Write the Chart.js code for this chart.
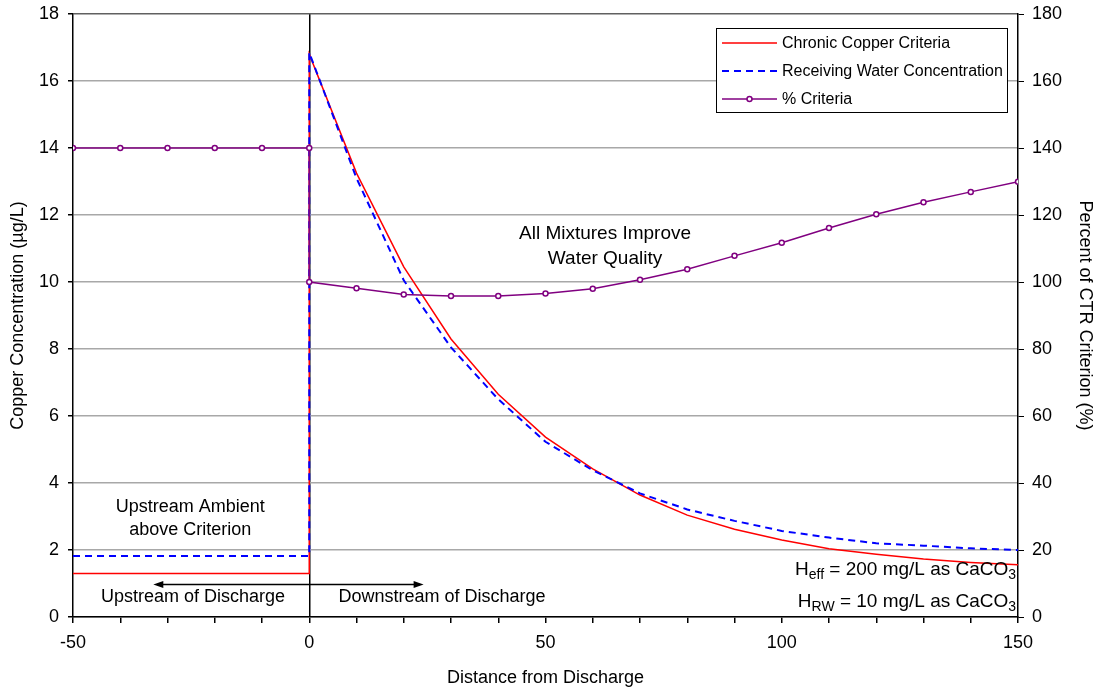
<!DOCTYPE html>
<html>
<head>
<meta charset="utf-8">
<script src="https://cdn.jsdelivr.net/npm/chart.js@4.4.0/dist/chart.umd.min.js"></script>
<style>
html, body { margin: 0; padding: 0; background: #fff; }
#wrap { width: 1098px; height: 692px; }
</style>
</head>
<body>
<div id="wrap"><canvas id="c"></canvas></div>
<script>
// ===== Copper criteria vs distance from discharge =====
const distUp = [-50, -40, -30, -20, -10, 0];
const distDown = [0, 10, 20, 30, 40, 50, 60, 70, 80, 90, 100, 110, 120, 130, 140, 150];

const criteriaUp = [1.3, 1.3, 1.3, 1.3, 1.3, 1.3];
const criteriaDown = [16.8, 13.25, 10.45, 8.3, 6.65, 5.37, 4.42, 3.64, 3.04, 2.62, 2.30, 2.04, 1.87, 1.73, 1.63, 1.56];

const rwUp = [1.82, 1.82, 1.82, 1.82, 1.82, 1.82];
const rwDown = [16.85, 13.1, 10.05, 8.05, 6.5, 5.23, 4.38, 3.69, 3.21, 2.87, 2.57, 2.37, 2.2, 2.13, 2.05, 2.0];

const pctUp = [140, 140, 140, 140, 140, 140];
const pctDown = [100, 98.1, 96.3, 95.8, 95.8, 96.6, 98.0, 100.7, 103.8, 107.8, 111.7, 116.1, 120.2, 123.8, 126.9, 129.9];

const FONT = 'Liberation Sans, Arial, sans-serif';
const pts = (xs, ys) => xs.map((x, i) => ({ x, y: ys[i] }));

// legend box in the upper right corner
const boxLegend = {
    id: 'boxLegend',
    afterDraw(chart) {
        const ctx = chart.ctx;
        const x0 = 716, y0 = 28, w = 291, h = 84;
        ctx.save();
        ctx.fillStyle = '#fff';
        ctx.fillRect(x0, y0, w, h);
        ctx.strokeStyle = '#000';
        ctx.lineWidth = 1;
        ctx.strokeRect(x0 + 0.5, y0 + 0.5, w, h);
        ctx.font = '16px ' + FONT;
        ctx.textBaseline = 'middle';
        const rows = [43, 71, 99];
        chart.data.datasets.forEach((ds, i) => {
            const y = rows[i];
            ctx.strokeStyle = ds.borderColor;
            ctx.lineWidth = ds.borderWidth;
            ctx.setLineDash(ds.borderDash || []);
            ctx.beginPath(); ctx.moveTo(722, y); ctx.lineTo(777, y); ctx.stroke();
            ctx.setLineDash([]);
            if (ds.pointRadius) {
                ctx.beginPath(); ctx.arc(749.5, y, 2.5, 0, Math.PI * 2);
                ctx.fillStyle = '#fff'; ctx.fill();
                ctx.lineWidth = 1.5; ctx.stroke();
            }
            ctx.fillStyle = '#000';
            ctx.fillText(ds.label, 782, y + 1);
        });
        ctx.restore();
    }
};

// text notes and the up/downstream arrow
const notes = {
    id: 'notes',
    afterDatasetsDraw(chart) {
        const ctx = chart.ctx, sx = chart.scales.x, sy = chart.scales.y;
        const X = v => sx.getPixelForValue(v), Y = v => sy.getPixelForValue(v);
        ctx.save();
        ctx.fillStyle = '#000';
        ctx.strokeStyle = '#000';
        ctx.textAlign = 'center';
        ctx.textBaseline = 'middle';
        ctx.font = '19px ' + FONT;
        ctx.fillText('All Mixtures Improve', X(62.6), Y(11.43));
        ctx.fillText('Water Quality', X(62.6), Y(10.7));
        ctx.font = '18px ' + FONT;
        ctx.fillText('Upstream Ambient', X(-25.2), Y(3.28));
        ctx.fillText('above Criterion', X(-25.2), Y(2.6));
        ctx.fillText('Upstream of Discharge', X(-24.6), Y(0.6));
        ctx.fillText('Downstream of Discharge', X(28.1), Y(0.6));

        // double arrow
        const ay = Math.round(Y(0.99)) + 0.5, ax1 = X(-33), ax2 = X(24.2);
        ctx.lineWidth = 1.5;
        ctx.beginPath(); ctx.moveTo(ax1 + 4, ay); ctx.lineTo(ax2 - 4, ay); ctx.stroke();
        ctx.beginPath(); ctx.moveTo(ax1, ay); ctx.lineTo(ax1 + 10, ay - 3.5); ctx.lineTo(ax1 + 10, ay + 3.5); ctx.fill();
        ctx.beginPath(); ctx.moveTo(ax2, ay); ctx.lineTo(ax2 - 10, ay - 3.5); ctx.lineTo(ax2 - 10, ay + 3.5); ctx.fill();

        // hardness notes, right aligned with subscripts
        const sub = (parts, right, y) => {
            let w = 0;
            parts.forEach(p => { ctx.font = (p[1] ? '14px ' : '19px ') + FONT; w += ctx.measureText(p[0]).width; });
            let x = right - w;
            ctx.textAlign = 'left';
            parts.forEach(p => {
                ctx.font = (p[1] ? '14px ' : '19px ') + FONT;
                ctx.fillText(p[0], x, y + (p[1] ? 5 : 0));
                x += ctx.measureText(p[0]).width;
            });
        };
        sub([['H', 0], ['eff', 1], [' = 200 mg/L as CaCO', 0], ['3', 1]], X(149.6), Y(1.4));
        sub([['H', 0], ['RW', 1], [' = 10 mg/L as CaCO', 0], ['3', 1]], X(149.6), Y(0.45));
        ctx.restore();
    }
};

const noPadV = s => { s.paddingTop = 0; s.paddingBottom = 0; };

new Chart(document.getElementById('c').getContext('2d'), {
    type: 'line',
    data: { datasets: [
        { label: 'Chronic Copper Criteria', data: pts(distUp, criteriaUp).concat(pts(distDown, criteriaDown)),
          borderColor: '#ff0000', borderWidth: 1.5, pointRadius: 0, yAxisID: 'y', order: 2 },
        { label: 'Receiving Water Concentration', data: pts(distUp, rwUp).concat(pts(distDown, rwDown)),
          borderColor: '#0000ff', borderWidth: 2, borderDash: [7, 5], pointRadius: 0, yAxisID: 'y', order: 1 },
        { label: '% Criteria', data: pts(distUp, pctUp).concat(pts(distDown, pctDown)),
          borderColor: '#800080', borderWidth: 1.5, pointRadius: 2.5, pointBorderWidth: 1.5,
          pointBackgroundColor: '#fff', pointBorderColor: '#800080', yAxisID: 'y2', order: 0 }
    ]},
    options: {
        responsive: true, maintainAspectRatio: false, animation: false,
        layout: { padding: { top: 14, left: 0, right: 0, bottom: 0 } },
        elements: { line: { tension: 0, fill: false } },
        scales: {
            x: { type: 'linear', min: -50, max: 150,
                afterFit: s => { s.height = 75; s.paddingLeft = 0; s.paddingRight = 0; },
                ticks: { stepSize: 10, autoSkip: false, maxRotation: 0, color: '#000', font: { family: FONT, size: 18 }, padding: 9,
                         callback: v => v % 50 === 0 ? v : '' },
                grid: { drawOnChartArea: true, tickLength: 6, tickColor: '#000',
                        color: c => c.tick && c.tick.value === 0 ? '#000' : 'rgba(0,0,0,0)', lineWidth: 1.5 },
                border: { color: '#000', width: 1.5 },
                title: { display: true, text: 'Distance from Discharge', color: '#000', font: { family: FONT, size: 18 }, padding: { top: 14, bottom: 3 } } },
            y: { position: 'left', min: 0, max: 18,
                afterFit: s => { s.width = 73; noPadV(s); },
                ticks: { stepSize: 2, color: '#000', font: { family: FONT, size: 18 }, padding: 9 },
                grid: { tickLength: 5, tickColor: '#000', lineWidth: 1.5,
                        color: c => c.tick && c.tick.value === 18 ? '#606060' : '#a8a8a8' },
                border: { color: '#000', width: 1.5 },
                title: { display: true, text: 'Copper Concentration (\u00B5g/L)', color: '#000', font: { family: FONT, size: 18 }, padding: 7 } },
            y2: { position: 'right', min: 0, max: 180,
                afterFit: s => { s.width = 80; noPadV(s); },
                ticks: { stepSize: 20, color: '#000', font: { family: FONT, size: 18 }, padding: 8 },
                grid: { drawOnChartArea: false, tickLength: 6, tickColor: '#000' },
                border: { color: '#000', width: 1.5 },
                title: { display: true, text: 'Percent of CTR Criterion (%)', color: '#000', font: { family: FONT, size: 18 }, padding: 2 } }
        },
        plugins: { legend: { display: false }, tooltip: { enabled: false } }
    },
    plugins: [notes, boxLegend]
});
</script>
</body>
</html>
